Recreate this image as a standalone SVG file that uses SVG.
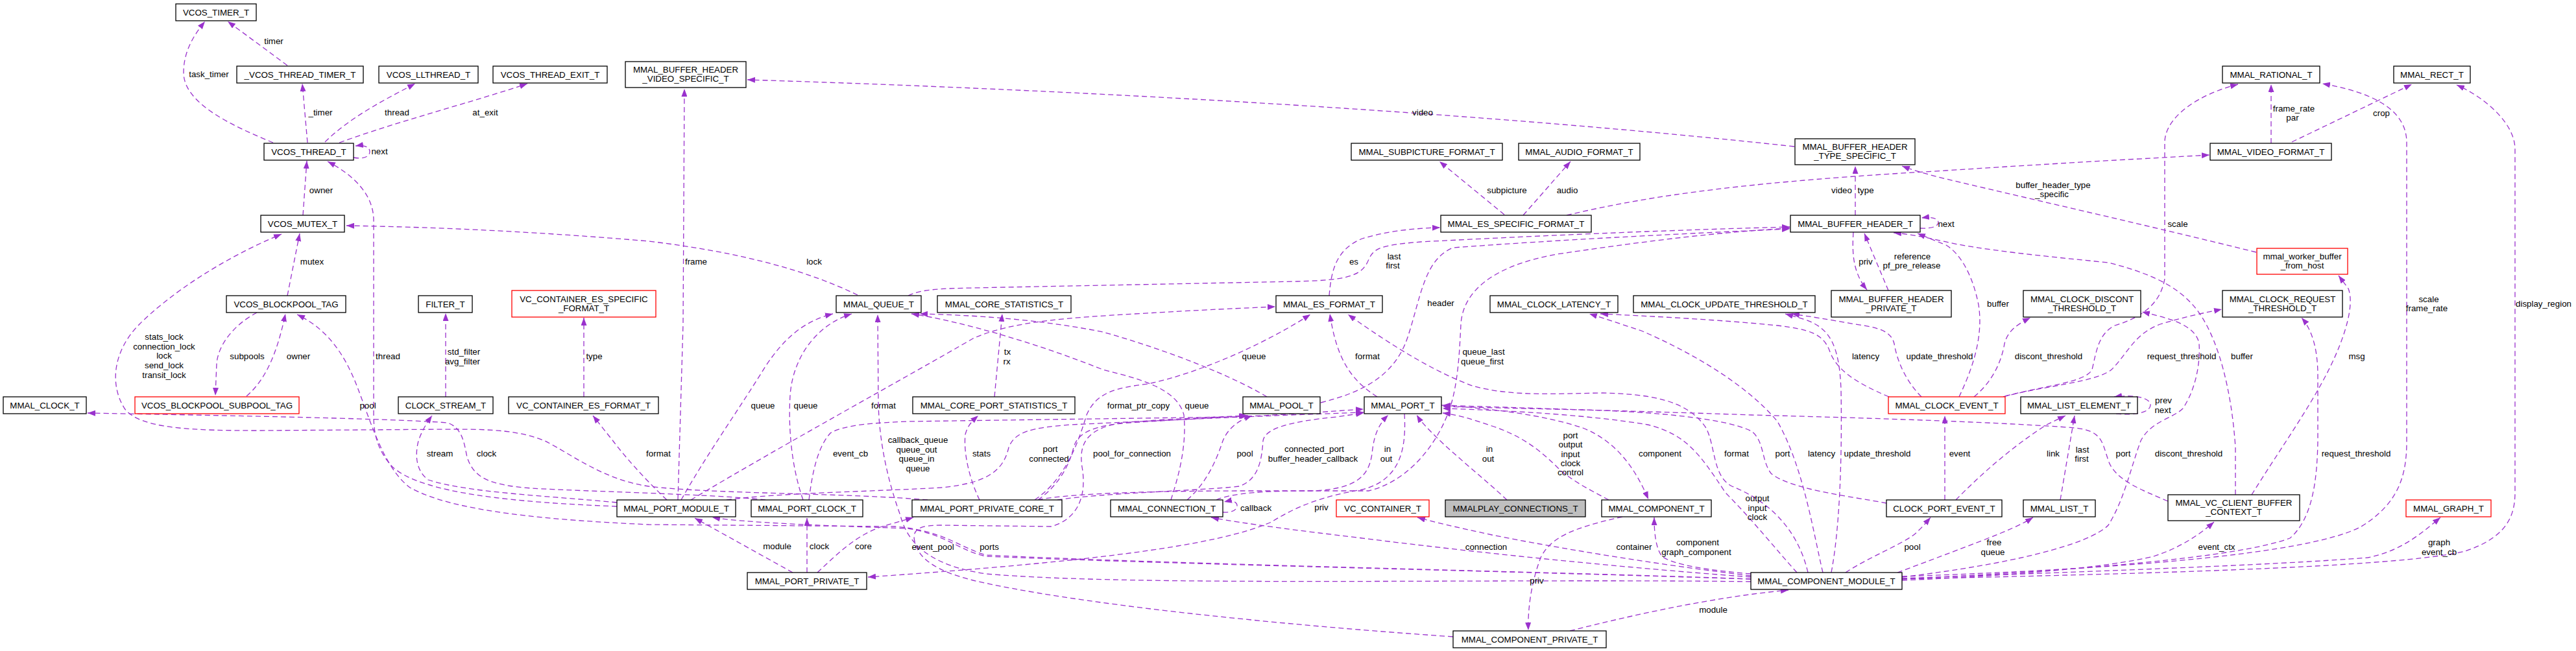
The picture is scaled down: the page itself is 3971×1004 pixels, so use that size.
<svg xmlns="http://www.w3.org/2000/svg" width="3971" height="1004" viewBox="0 0 3971 1004">
<defs>
<marker id="ah" markerWidth="12" markerHeight="9" refX="12" refY="4.5" orient="auto" markerUnits="userSpaceOnUse"><path d="M0,0L12,4.5L0,9z" fill="#9a32cd" stroke="none"/></marker>
<style>
text{font-family:"Liberation Sans",Arial,Helvetica,sans-serif;font-size:13.33px;text-anchor:middle;fill:#000}
.nd rect{fill:#fff;stroke:#000;stroke-width:1.3}
.red rect{stroke:#ff0000}
.gry rect{fill:#bfbfbf}
#edges path{fill:none;stroke:#9a32cd;stroke-width:1.3;stroke-dasharray:8,5;marker-end:url(#ah)}
</style>
</defs>
<rect width="3971" height="1004" fill="#fff"/>
<g id="edges">
<path d="M421,220 C360,195 283,160 283,112 C283,80 298,55 316,33"/><text x="322" y="118.5">task_timer</text>
<path d="M443,101 L351,33"/><text x="422" y="67.5">timer</text>
<path d="M474,220 L466,129"/><text x="494" y="177.5">_timer</text>
<path d="M501,219 C540,180 600,150 640,129"/><text x="612" y="177.5">thread</text>
<path d="M523,220 C620,185 720,160 813,129"/><text x="748" y="177.5">at_exit</text>
<path d="M545,243 C561,246 570,241 570,234 C570,227 562,223 548,225"/><text x="585" y="237.5">next</text>
<path d="M467,332 L473,248"/><text x="495" y="297.5">owner</text>
<path d="M951,781 C800,775 650,762 605,720 C582,695 576,670 576,640 L576,340 C576,300 545,270 505,249"/><text x="598" y="553.5">thread</text>
<path d="M443,456 L462,360"/><text x="481" y="407.5">mutex</text>
<path d="M1430,771 C1300,760 1100,762 1000,750 C930,740 880,700 840,680 C800,664 760,662 700,662 L400,664 C300,664 215,662 192,630 C168,592 175,540 215,500 C260,455 340,400 434,361"/>
<text x="253" y="524">stats_lock</text><text x="253" y="539">connection_lock</text><text x="253" y="553">lock</text><text x="253" y="568">send_lock</text><text x="253" y="583">transit_lock</text>
<path d="M1322,455 C1250,420 1150,390 1000,372 C800,355 650,350 534,348"/><text x="1255" y="407.5">lock</text>
<path d="M380,611 C410,585 427,545 440,484"/><text x="460" y="553.5">owner</text>
<path d="M2699,893 C2400,882 1800,870 1520,856 C1480,845 1455,818 1380,812 L1000,809 C850,802 700,790 632,752 C592,722 572,652 552,600 C535,555 510,510 458,485"/><text x="567" y="629.5">pool</text>
<path d="M396,482 C362,500 337,530 334,560 L332,610"/><text x="381" y="553.5">subpools</text>
<path d="M687,612 L687,483"/><text x="715" y="546.5">std_filter</text><text x="713" y="561.5">avg_filter</text>
<path d="M900,612 L900,490"/><text x="916" y="553.5">type</text>
<path d="M1045,771 L1053,500 L1055,137"/><text x="1073" y="407.5">frame</text>
<path d="M2766,226 C2300,175 1700,140 1152,123"/><text x="2193" y="177.5">video</text>
<path d="M3501,221 L3501,130"/><text x="3536" y="171.5">frame_rate</text><text x="3534" y="185.5">par</text>
<path d="M3091,611 C3150,595 3215,590 3225,570 C3232,540 3235,515 3260,502 C3300,490 3330,470 3337,430 L3337,220 C3337,180 3390,145 3450,130"/><text x="3357" y="349.5">scale</text>
<path d="M2932,889 C3200,880 3550,860 3640,812 C3700,775 3710,730 3710,680 L3710,220 C3710,170 3660,143 3580,129"/><text x="3744" y="465.5">scale</text><text x="3741" y="479.5">frame_rate</text>
<path d="M3533,219 L3718,130"/><text x="3671" y="178.5">crop</text>
<path d="M2932,893 C3300,885 3700,875 3800,850 C3860,830 3877,800 3877,760 L3877,230 C3877,190 3830,150 3787,131"/><text x="3921" y="472.5">display_region</text>
<path d="M2319,331 L2219,249"/><text x="2323" y="297.5">subpicture</text>
<path d="M2348,332 L2421,249"/><text x="2416" y="297.5">audio</text>
<path d="M2415,332 C2550,300 2700,280 3000,263 C3200,250 3300,245 3406,239"/><text x="2839" y="297.5">video</text>
<path d="M2860,332 L2860,256"/><text x="2876" y="297.5">type</text>
<path d="M3478,389 C3300,345 3100,300 3000,276 C2960,266 2945,261 2932,256"/><text x="3165" y="289.5">buffer_header_type</text><text x="3163" y="303.5">_specific</text>
<path d="M2049,456 C2052,420 2058,385 2100,368 C2140,356 2180,352 2220,351"/><text x="2087" y="407.5">es</text>
<path d="M2960,352 C2980,353 2988,348 2988,343 C2988,337 2978,334 2962,336"/><text x="3000" y="349.5">next</text>
<path d="M2911,448 L2874,360"/><text x="2948" y="399.5">reference</text><text x="2947" y="413.5">pf_pre_release</text>
<path d="M2857,358 C2855,390 2856,420 2878,447"/><text x="2876" y="407.5">priv</text>
<path d="M1400,456 C1420,446 1450,445 1500,444 C1700,440 1900,436 2000,434 C2080,432 2100,425 2110,400 C2118,382 2130,378 2190,373 C2400,362 2600,354 2759,350"/><text x="2149" y="399.5">last</text><text x="2147" y="413.5">first</text>
<path d="M2036,621 C2100,605 2150,580 2170,520 C2190,460 2195,400 2240,382 C2400,370 2600,360 2759,353"/><text x="2221" y="471.5">header</text>
<path d="M3020,612 C3040,570 3058,520 3050,470 C3040,420 3020,390 3000,378 C2980,370 2968,365 2956,360"/><text x="3080" y="472.5">buffer</text>
<path d="M3446,763 L3446,690 C3440,600 3420,530 3395,490 C3370,450 3330,425 3250,405 C3150,395 3050,385 2995,372 C2960,364 2935,360 2919,359"/><text x="3456" y="553.5">buffer</text>
<path d="M1600,771 C1650,760 1800,757 1920,757 L2110,757 C2160,745 2210,700 2235,630 C2248,590 2250,540 2252,500 C2255,450 2300,410 2400,392 C2550,370 2650,358 2759,352"/><text x="2287" y="546.5">queue_last</text><text x="2285" y="561.5">queue_first</text>
<path d="M2123,612 C2080,585 2060,550 2050,484"/><text x="2108" y="553.5">format</text>
<path d="M1595,771 C1640,740 1660,690 1675,640 C1690,605 1720,598 1770,592 C1850,575 1950,530 2020,485"/><text x="1755" y="629.5">format_ptr_copy</text>
<path d="M2787,883 C2770,810 2720,770 2670,750 C2640,735 2645,690 2630,660 C2600,615 2540,608 2470,606 C2400,607 2330,612 2270,595 C2200,570 2120,515 2078,485"/><text x="2677" y="703.5">format</text>
<path d="M1065,771 C1200,690 1400,580 1500,522 C1560,495 1650,490 1750,484 C1850,478 1920,475 1966,473"/><text x="1362" y="629.5">format</text>
<path d="M1050,771 C1090,700 1140,630 1180,565 C1210,520 1240,495 1284,484"/><text x="1176" y="629.5">queue</text>
<path d="M1238,771 C1220,720 1215,660 1218,610 C1222,550 1260,500 1313,484"/><text x="1242" y="629.5">queue</text>
<path d="M2699,897 C2300,892 1750,905 1520,885 C1430,872 1398,835 1388,795 C1368,740 1355,680 1354,620 L1353,485"/>
<text x="1415" y="682.5">callback_queue</text><text x="1413" y="697.5">queue_out</text><text x="1413" y="711.5">queue_in</text><text x="1415" y="726.5">queue</text>
<path d="M2240,982 C1950,962 1650,930 1500,895 C1440,880 1415,860 1410,835 C1405,815 1420,810 1450,810 L1620,812 C1665,800 1675,760 1668,720 C1662,680 1680,660 1730,652 C1800,646 1860,644 1922,641"/><text x="1438" y="847.5">event_pool</text>
<path d="M1533,612 L1545,484"/><text x="1553" y="546.5">tx</text><text x="1552" y="561.5">rx</text>
<path d="M1510,771 C1495,740 1485,700 1488,670 C1492,655 1500,648 1508,641"/><text x="1513" y="703.5">stats</text>
<path d="M1120,771 C1200,760 1350,758 1450,752 C1530,745 1548,720 1555,690 C1565,665 1590,660 1650,655 C1800,648 1950,641 2102,636"/><text x="1619" y="696.5">port</text><text x="1617" y="711.5">connected</text>
<path d="M1247,771 C1252,730 1260,690 1280,668 C1300,655 1350,652 1400,650 L1900,643 C1980,640 2040,635 2102,631"/><text x="1311" y="703.5">event_cb</text>
<path d="M1830,771 C1860,745 1875,710 1885,680 C1893,660 1910,648 1930,641"/><text x="1919" y="703.5">pool</text>
<path d="M1805,771 C1815,740 1830,690 1825,640 C1815,600 1760,585 1700,570 C1600,530 1480,495 1405,484"/><text x="1845" y="629.5">queue</text>
<path d="M1953,612 C1900,580 1800,540 1700,512 C1600,492 1500,486 1418,484"/><text x="1933" y="553.5">queue</text>
<path d="M1875,771 C1900,760 1950,757 2020,757 C2090,755 2110,735 2115,700 C2118,670 2125,655 2140,640"/><text x="2139" y="696.5">in</text><text x="2137" y="711.5">out</text>
<path d="M1630,771 C1700,760 1850,757 1910,750 C1940,740 1945,710 1947,680 C1950,660 1990,650 2060,643 L2102,637"/><text x="2026" y="696.5">connected_port</text><text x="2024" y="711.5">buffer_header_callback</text>
<path d="M2323,771 C2290,740 2240,700 2213,673 C2200,660 2190,650 2184,640"/><text x="2296" y="696.5">in</text><text x="2294" y="711.5">out</text>
<path d="M2165,638 C2168,690 2160,740 2100,755 C2040,765 2000,780 1960,805 C1880,840 1700,865 1338,890"/><text x="2037" y="786.5">priv</text>
<path d="M2222,625 C2300,630 2380,640 2440,660 C2490,680 2520,720 2541,770"/><text x="2559" y="703.5">component</text>
<path d="M2480,771 C2450,755 2420,740 2400,720 C2370,690 2340,670 2300,657 C2270,647 2250,640 2224,637"/>
<text x="2421" y="675.5">port</text><text x="2421" y="689.5">output</text><text x="2421" y="704.5">input</text><text x="2421" y="718.5">clock</text><text x="2421" y="733">control</text>
<path d="M2770,883 C2740,850 2700,800 2660,760 C2620,700 2600,670 2540,655 C2450,640 2330,633 2224,630"/><text x="2709" y="772.5">output</text><text x="2709" y="787.5">input</text><text x="2709" y="801.5">clock</text>
<path d="M2908,776 C2850,765 2760,755 2730,730 C2715,710 2720,680 2700,665 C2660,645 2550,635 2440,632 L2224,625"/><text x="2748" y="703.5">port</text>
<path d="M3342,773 C3300,755 3260,740 3250,710 C3240,680 3240,665 3200,660 C3100,652 2900,645 2700,640 C2500,633 2350,630 2224,627"/><text x="3273" y="703.5">port</text>
<path d="M2998,771 L2998,641"/><text x="3021" y="703.5">event</text>
<path d="M3015,771 C3050,735 3100,690 3155,655 L3184,641"/><text x="3165" y="703.5">link</text>
<path d="M3176,771 L3198,641"/><text x="3210" y="697.5">last</text><text x="3209" y="711.5">first</text>
<path d="M3262,638 C3292,641 3314,636 3315,625 C3316,614 3292,608 3259,612"/><text x="3335" y="621.5">prev</text><text x="3334" y="636.5">next</text>
<path d="M2912,612 C2860,590 2830,570 2820,540 C2810,515 2790,508 2740,502 C2650,493 2550,488 2467,484"/><text x="2876" y="553.5">latency</text>
<path d="M2962,612 C2940,590 2925,560 2920,530 C2915,510 2895,505 2860,500 C2820,493 2790,488 2762,484"/><text x="2990" y="553.5">update_threshold</text>
<path d="M2810,883 C2795,820 2780,720 2740,650 C2690,590 2600,540 2530,510 C2490,497 2470,490 2450,484"/><text x="2808" y="703.5">latency</text>
<path d="M2823,883 C2835,820 2840,720 2838,600 C2835,530 2820,505 2780,492 L2752,484"/><text x="2894" y="703.5">update_threshold</text>
<path d="M3043,612 C3070,590 3085,560 3090,530 C3095,510 3110,500 3130,490"/><text x="3158" y="553.5">discont_threshold</text>
<path d="M3088,612 C3150,595 3230,590 3255,570 C3280,545 3290,515 3330,500 C3370,488 3400,482 3425,477"/><text x="3363" y="553.5">request_threshold</text>
<path d="M2932,890 C3100,870 3220,840 3250,810 C3275,770 3285,720 3300,680 C3315,650 3350,645 3365,630 C3385,600 3392,560 3390,530 C3385,500 3340,490 3302,481"/><text x="3374" y="703.5">discont_threshold</text>
<path d="M2932,893 C3200,880 3450,860 3530,830 C3565,800 3572,740 3573,680 L3573,580 C3573,540 3565,510 3548,490"/><text x="3632" y="703.5">request_threshold</text>
<path d="M3471,763 C3510,700 3560,630 3590,570 C3615,520 3630,470 3620,445 L3605,425"/><text x="3633" y="553.5">msg</text>
<path d="M2932,895 C3100,888 3250,875 3320,858 C3360,845 3390,825 3413,805"/><text x="3417" y="847.5">event_ctx</text>
<path d="M2925,883 C2960,870 3000,855 3060,832 C3090,820 3115,810 3134,798"/><text x="3074" y="840.5">free</text><text x="3072" y="855.5">queue</text>
<path d="M2845,883 C2880,860 2930,840 2950,825 C2962,815 2970,805 2976,798"/><text x="2948" y="847.5">pool</text>
<path d="M2932,892 C3200,882 3500,872 3650,860 C3700,850 3730,825 3762,798"/><text x="3760" y="840.5">graph</text><text x="3760" y="855.5">event_cb</text>
<path d="M2699,885 C2640,880 2580,872 2562,858 C2552,845 2550,820 2550,798"/><text x="2617" y="840.5">component</text><text x="2615" y="855.5">graph_component</text>
<path d="M2699,888 C2550,870 2400,845 2300,825 C2240,812 2210,805 2185,798"/><text x="2519" y="847.5">container</text>
<path d="M2699,890 C2500,875 2300,855 2100,830 C2000,818 1920,808 1867,798"/><text x="2291" y="847.5">connection</text>
<path d="M1885,790 C1900,791 1907,786 1907,780 C1907,774 1900,771 1887,774"/><text x="1936" y="787.5">callback</text>
<path d="M2699,893 C2300,880 1800,870 1520,858 C1480,850 1460,825 1400,815 C1250,810 1150,806 1098,798"/><text x="1525" y="847.5">ports</text>
<path d="M1222,883 L1071,799"/><text x="1198" y="846.5">module</text>
<path d="M1244,883 L1244,799"/><text x="1263" y="846.5">clock</text>
<path d="M1260,883 C1290,855 1320,825 1360,812 C1380,806 1395,802 1408,798"/><text x="1331" y="846.5">core</text>
<path d="M2501,797 C2420,815 2390,830 2375,860 C2360,900 2355,940 2356,972"/><text x="2369" y="899.5">priv</text>
<path d="M2420,973 C2530,945 2650,920 2757,910"/><text x="2641" y="944.5">module</text>
<path d="M1180,771 C1100,762 900,758 820,753 C750,748 730,735 720,705 C715,680 712,660 690,652 C600,645 300,640 135,637"/><text x="750" y="703.5">clock</text>
<path d="M951,775 C850,765 720,760 660,740 C640,725 640,700 645,680 C650,665 658,652 666,641"/><text x="678" y="703.5">stream</text>
<path d="M1028,771 C990,735 960,700 945,680 L914,641"/><text x="1015" y="703.5">format</text>
<path d="M1600,771 C1630,750 1648,720 1655,690 C1662,665 1690,656 1740,652 L1924,641"/><text x="1745" y="703.5">pool_for_connection</text>
</g>
<g id="nodes">
<g id="vcos_timer_t" class="nd"><rect x="271" y="6" width="124" height="26"/><text x="333" y="23.5">VCOS_TIMER_T</text></g>
<g id="vcos_thread_timer_t" class="nd"><rect x="365" y="102" width="195" height="26"/><text x="462.5" y="119.5">_VCOS_THREAD_TIMER_T</text></g>
<g id="vcos_llthread_t" class="nd"><rect x="584" y="102" width="153" height="26"/><text x="660.5" y="119.5">VCOS_LLTHREAD_T</text></g>
<g id="vcos_thread_exit_t" class="nd"><rect x="760" y="102" width="176" height="26"/><text x="848" y="119.5">VCOS_THREAD_EXIT_T</text></g>
<g id="mmal_buffer_header_video_specific_t" class="nd"><rect x="964" y="95" width="186" height="40"/><text x="1057" y="111.5">MMAL_BUFFER_HEADER</text><text x="1057" y="125.5">_VIDEO_SPECIFIC_T</text></g>
<g id="mmal_rational_t" class="nd"><rect x="3426" y="102" width="150" height="26"/><text x="3501" y="119.5">MMAL_RATIONAL_T</text></g>
<g id="mmal_rect_t" class="nd"><rect x="3690" y="102" width="118" height="26"/><text x="3749" y="119.5">MMAL_RECT_T</text></g>
<g id="vcos_thread_t" class="nd"><rect x="407" y="221" width="138" height="26"/><text x="476" y="238.5">VCOS_THREAD_T</text></g>
<g id="mmal_subpicture_format_t" class="nd"><rect x="2083" y="221" width="233" height="26"/><text x="2199.5" y="238.5">MMAL_SUBPICTURE_FORMAT_T</text></g>
<g id="mmal_audio_format_t" class="nd"><rect x="2341" y="221" width="187" height="26"/><text x="2434.5" y="238.5">MMAL_AUDIO_FORMAT_T</text></g>
<g id="mmal_buffer_header_type_specific_t" class="nd"><rect x="2767" y="214" width="185" height="40"/><text x="2859.5" y="230.5">MMAL_BUFFER_HEADER</text><text x="2859.5" y="244.5">_TYPE_SPECIFIC_T</text></g>
<g id="mmal_video_format_t" class="nd"><rect x="3407" y="221" width="187" height="26"/><text x="3500.5" y="238.5">MMAL_VIDEO_FORMAT_T</text></g>
<g id="vcos_mutex_t" class="nd"><rect x="402" y="332" width="129" height="26"/><text x="466.5" y="349.5">VCOS_MUTEX_T</text></g>
<g id="mmal_es_specific_format_t" class="nd"><rect x="2221" y="332" width="232" height="26"/><text x="2337" y="349.5">MMAL_ES_SPECIFIC_FORMAT_T</text></g>
<g id="mmal_buffer_header_t" class="nd"><rect x="2760" y="332" width="200" height="26"/><text x="2860" y="349.5">MMAL_BUFFER_HEADER_T</text></g>
<g id="mmal_worker_buffer_from_host" class="nd red"><rect x="3479" y="383" width="140" height="40"/><text x="3549" y="399.5">mmal_worker_buffer</text><text x="3549" y="414">_from_host</text></g>
<g id="vcos_blockpool_tag" class="nd"><rect x="349" y="456" width="184" height="26"/><text x="441" y="473.5">VCOS_BLOCKPOOL_TAG</text></g>
<g id="filter_t" class="nd"><rect x="645" y="456" width="83" height="26"/><text x="686.5" y="473.5">FILTER_T</text></g>
<g id="vc_container_es_specific_format_t" class="nd red"><rect x="789" y="448" width="222" height="41"/><text x="900" y="465.5">VC_CONTAINER_ES_SPECIFIC</text><text x="900" y="479.5">_FORMAT_T</text></g>
<g id="mmal_queue_t" class="nd"><rect x="1289" y="456" width="131" height="26"/><text x="1354.5" y="473.5">MMAL_QUEUE_T</text></g>
<g id="mmal_core_statistics_t" class="nd"><rect x="1445" y="456" width="206" height="26"/><text x="1548" y="473.5">MMAL_CORE_STATISTICS_T</text></g>
<g id="mmal_es_format_t" class="nd"><rect x="1967" y="456" width="164" height="26"/><text x="2049" y="473.5">MMAL_ES_FORMAT_T</text></g>
<g id="mmal_clock_latency_t" class="nd"><rect x="2297" y="456" width="197" height="26"/><text x="2395.5" y="473.5">MMAL_CLOCK_LATENCY_T</text></g>
<g id="mmal_clock_update_threshold_t" class="nd"><rect x="2518" y="456" width="280" height="26"/><text x="2658" y="473.5">MMAL_CLOCK_UPDATE_THRESHOLD_T</text></g>
<g id="mmal_buffer_header_private_t" class="nd"><rect x="2823" y="448" width="185" height="41"/><text x="2915.5" y="465.5">MMAL_BUFFER_HEADER</text><text x="2915.5" y="479.5">_PRIVATE_T</text></g>
<g id="mmal_clock_discont_threshold_t" class="nd"><rect x="3119" y="448" width="181" height="41"/><text x="3209.5" y="465.5">MMAL_CLOCK_DISCONT</text><text x="3209.5" y="479.5">_THRESHOLD_T</text></g>
<g id="mmal_clock_request_threshold_t" class="nd"><rect x="3426" y="448" width="185" height="41"/><text x="3518.5" y="465.5">MMAL_CLOCK_REQUEST</text><text x="3518.5" y="479.5">_THRESHOLD_T</text></g>
<g id="mmal_clock_t" class="nd"><rect x="5" y="612" width="128" height="26"/><text x="69" y="629.5">MMAL_CLOCK_T</text></g>
<g id="vcos_blockpool_subpool_tag" class="nd red"><rect x="208" y="612" width="253" height="26"/><text x="334.5" y="629.5">VCOS_BLOCKPOOL_SUBPOOL_TAG</text></g>
<g id="clock_stream_t" class="nd"><rect x="614" y="612" width="146" height="26"/><text x="687" y="629.5">CLOCK_STREAM_T</text></g>
<g id="vc_container_es_format_t" class="nd"><rect x="784" y="612" width="231" height="26"/><text x="899.5" y="629.5">VC_CONTAINER_ES_FORMAT_T</text></g>
<g id="mmal_core_port_statistics_t" class="nd"><rect x="1407" y="612" width="250" height="26"/><text x="1532" y="629.5">MMAL_CORE_PORT_STATISTICS_T</text></g>
<g id="mmal_pool_t" class="nd"><rect x="1916" y="612" width="119" height="26"/><text x="1975.5" y="629.5">MMAL_POOL_T</text></g>
<g id="mmal_port_t" class="nd"><rect x="2103" y="612" width="119" height="26"/><text x="2162.5" y="629.5">MMAL_PORT_T</text></g>
<g id="mmal_clock_event_t" class="nd red"><rect x="2911" y="612" width="180" height="26"/><text x="3001" y="629.5">MMAL_CLOCK_EVENT_T</text></g>
<g id="mmal_list_element_t" class="nd"><rect x="3115" y="612" width="180" height="26"/><text x="3205" y="629.5">MMAL_LIST_ELEMENT_T</text></g>
<g id="mmal_port_module_t" class="nd"><rect x="951" y="771" width="183" height="26"/><text x="1042.5" y="788.5">MMAL_PORT_MODULE_T</text></g>
<g id="mmal_port_clock_t" class="nd"><rect x="1158" y="771" width="172" height="26"/><text x="1244" y="788.5">MMAL_PORT_CLOCK_T</text></g>
<g id="mmal_port_private_core_t" class="nd"><rect x="1406" y="771" width="231" height="26"/><text x="1521.5" y="788.5">MMAL_PORT_PRIVATE_CORE_T</text></g>
<g id="mmal_connection_t" class="nd"><rect x="1712" y="771" width="173" height="26"/><text x="1798.5" y="788.5">MMAL_CONNECTION_T</text></g>
<g id="vc_container_t" class="nd red"><rect x="2060" y="771" width="143" height="26"/><text x="2131.5" y="788.5">VC_CONTAINER_T</text></g>
<g id="mmalplay_connections_t" class="nd gry"><rect x="2228" y="771" width="216" height="26"/><text x="2336" y="788.5">MMALPLAY_CONNECTIONS_T</text></g>
<g id="mmal_component_t" class="nd"><rect x="2469" y="771" width="169" height="26"/><text x="2553.5" y="788.5">MMAL_COMPONENT_T</text></g>
<g id="clock_port_event_t" class="nd"><rect x="2908" y="771" width="178" height="26"/><text x="2997" y="788.5">CLOCK_PORT_EVENT_T</text></g>
<g id="mmal_list_t" class="nd"><rect x="3119" y="771" width="111" height="26"/><text x="3174.5" y="788.5">MMAL_LIST_T</text></g>
<g id="mmal_vc_client_buffer_context_t" class="nd"><rect x="3342" y="763" width="203" height="40"/><text x="3443.5" y="779.5">MMAL_VC_CLIENT_BUFFER</text><text x="3443.5" y="793.5">_CONTEXT_T</text></g>
<g id="mmal_graph_t" class="nd red"><rect x="3709" y="771" width="131" height="26"/><text x="3774.5" y="788.5">MMAL_GRAPH_T</text></g>
<g id="mmal_port_private_t" class="nd"><rect x="1152" y="883" width="184" height="26"/><text x="1244" y="900.5">MMAL_PORT_PRIVATE_T</text></g>
<g id="mmal_component_module_t" class="nd"><rect x="2699" y="883" width="233" height="26"/><text x="2815.5" y="900.5">MMAL_COMPONENT_MODULE_T</text></g>
<g id="mmal_component_private_t" class="nd"><rect x="2240" y="973" width="236" height="26"/><text x="2358" y="990.5">MMAL_COMPONENT_PRIVATE_T</text></g>
</g>
</svg>
